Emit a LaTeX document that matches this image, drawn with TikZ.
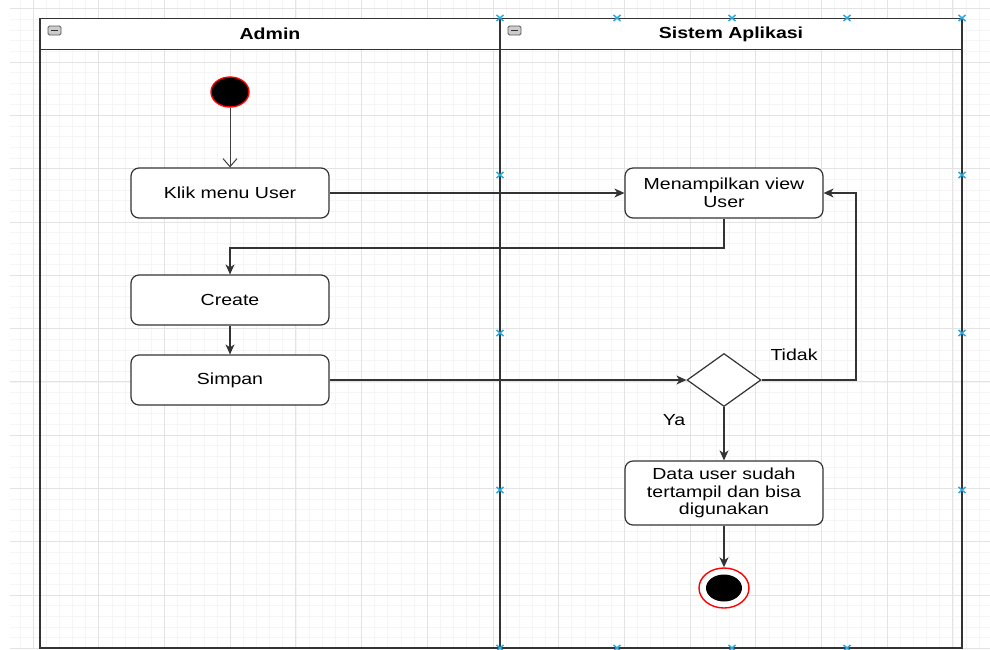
\documentclass[tikz,border=0pt]{standalone}
\usepackage{fontspec}
\setmainfont{Liberation Sans}[FakeStretch=1.22]
\usetikzlibrary{arrows.meta}
\usetikzlibrary{shapes.geometric}

\definecolor{linegray}{HTML}{333333}
\definecolor{handleblue}{HTML}{29A8E0}

\tikzset{
  minorline/.style={color=black!4, line width=0.6pt},
  majorline/.style={color=black!11, line width=0.8pt},
  lanehead/.style={draw=linegray, line width=1.4pt, fill=white, minimum width=460pt, minimum height=31pt, inner sep=0pt, font=\fontsize{16}{18}\selectfont\bfseries},
  activity/.style={draw=linegray, line width=1.2pt, rounded corners=8pt, fill=white, minimum width=198pt, minimum height=50pt, inner sep=0pt, align=center, font=\fontsize{16}{18}\selectfont},
  decision/.style={diamond, draw=linegray, line width=1.2pt, fill=white, minimum width=74pt, minimum height=53pt, inner sep=0pt},
  startstate/.style={ellipse, draw=red, line width=1.4pt, fill=black, minimum width=38pt, minimum height=30pt, inner sep=0pt},
  endstate/.style={ellipse, draw=red, line width=1.4pt, fill=white, minimum width=50pt, minimum height=40pt, inner sep=0pt},
  flow/.style={draw=linegray, line width=1.3pt, -{Stealth[length=10pt,width=9pt,inset=3pt]}},
  guard/.style={font=\fontsize{16}{18}\selectfont, inner sep=0pt},
  handle/.style={draw=handleblue, line width=1.5pt},
}

\begin{document}
\begin{tikzpicture}[x=1pt,y=-1pt]
  \useasboundingbox (0,0) rectangle (990,649);
  \fill[white] (0,0) rectangle (990,649);

  % grid of the canvas
  \foreach \k in {-1,...,73}
    \draw[minorline] ({33+13.14*\k},0) -- ({33+13.14*\k},649);
  \foreach \k in {-5,...,55}
    \draw[minorline] (10,{62+10.66*\k}) -- (990,{62+10.66*\k});
  \foreach \k in {0,...,14}
    \draw[majorline] ({33+65.7*\k},0) -- ({33+65.7*\k},649);
  \foreach \k in {-1,...,11}
    \draw[majorline] (10,{62+53.3*\k}) -- (990,{62+53.3*\k});

  % swimlanes
  \draw[linegray, line width=1.8pt] (40,49) rectangle (500,648);
  \draw[linegray, line width=1.8pt] (500,49) rectangle (962,648);
  \node[lanehead] (hdrAdmin) at (270,34) {Admin};
  \node[lanehead, minimum width=462pt] (hdrSistem) at (731,34) {Sistem Aplikasi};
  \draw[black!65, fill=black!20, line width=0.8pt, rounded corners=1.5pt] (48,26) rectangle (61,35);
  \draw[black!80, line width=1.2pt] (51,30.5) -- (58,30.5);
  \draw[black!65, fill=black!20, line width=0.8pt, rounded corners=1.5pt] (508,26) rectangle (521,35);
  \draw[black!80, line width=1.2pt] (511,30.5) -- (518,30.5);

  % nodes
  \node[startstate] (start) at (230,92) {};
  \node[activity] (klik) at (230,193) {Klik menu User};
  \node[activity] (create) at (230,300) {Create};
  \node[activity] (simpan) at (230,380) {Simpan};
  \node[activity] (view) at (724,193) {Menampilkan view\\User};
  \node[decision] (cek) at (724,380) {};
  \node[activity, minimum height=64pt, font=\fontsize{16}{17.5}\selectfont] (data) at (724,493) {Data user sudah\\tertampil dan bisa\\digunakan};
  \node[endstate] (end) at (724,588) {};
  \fill[black] (end.center) ellipse (18pt and 13.5pt);

  \node[guard] (lblTidak) at (794,355) {Tidak};
  \node[guard] (lblYa) at (674,420) {Ya};

  % connectors
  \draw[black!75, line width=1pt, -{Straight Barb[length=8pt,width=14pt]}] (start) -- (klik);
  \draw[flow] (klik) -- (view);
  \draw[flow] (view.south) |- (230,248) -- (create.north);
  \draw[flow] (create) -- (simpan);
  \draw[flow] (simpan) -- (cek);
  \draw[flow] (cek.east) -| (856,193) -- (view.east);
  \draw[flow] (cek) -- (data);
  \draw[flow] (data) -- (end);

  % selection handles
  \foreach \hx/\hy in {500/18,617/18,732/18,847/18,962/18,500/175,962/175,500/333,962/333,500/490,962/490,500/648,617/648,732/648,847/648}
    \draw[handle] (\hx-3.5,\hy-3) -- (\hx+3.5,\hy+3) (\hx-3.5,\hy+3) -- (\hx+3.5,\hy-3);
\end{tikzpicture}
\end{document}
